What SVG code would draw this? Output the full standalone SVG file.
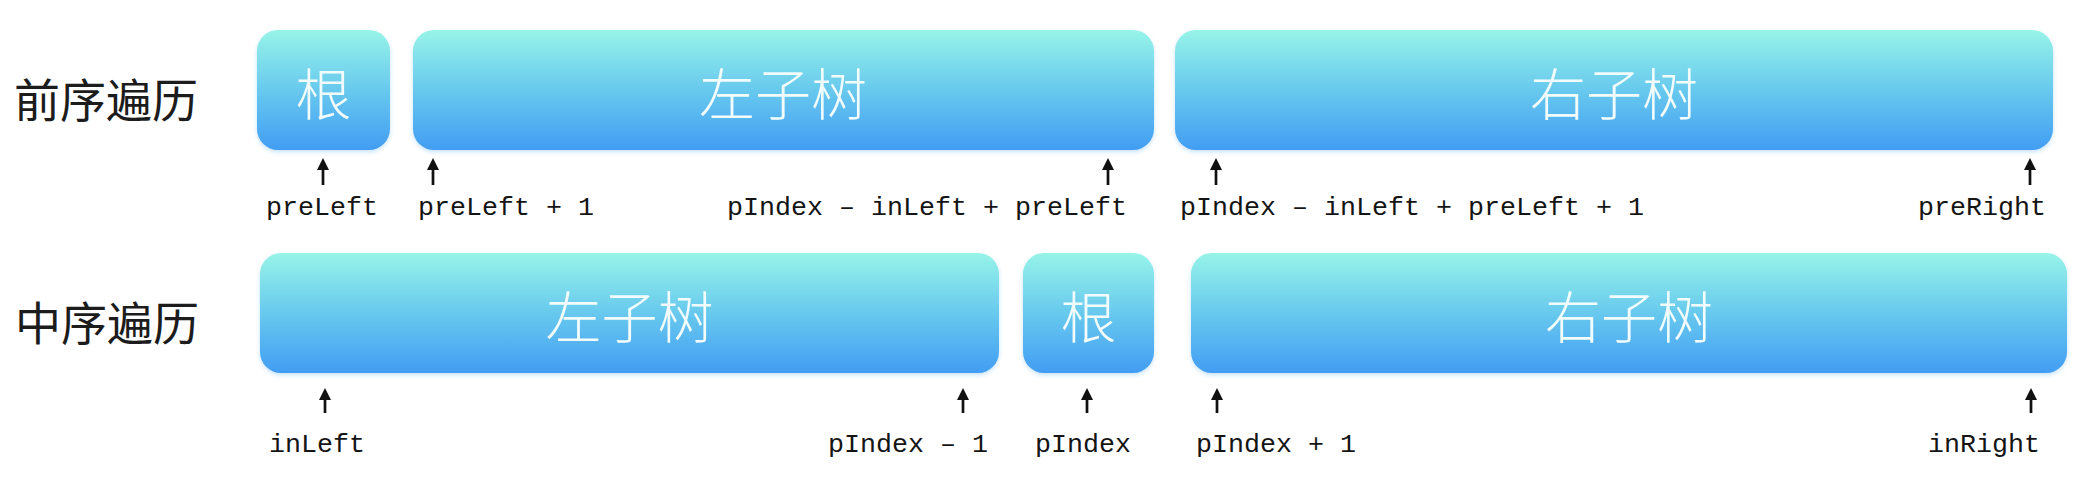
<svg xmlns="http://www.w3.org/2000/svg" width="2094" height="480" viewBox="0 0 2094 480">
<style>
.box{fill:url(#g);filter:url(#sh)}
.bt{font-family:"Noto Sans CJK SC","Noto Sans",sans-serif;font-size:56px;font-weight:300;fill:#f2fcfc;text-anchor:middle;dominant-baseline:central}
.rl{font-family:"Noto Sans CJK SC","Noto Sans",sans-serif;font-size:46px;fill:#1c1c1c;dominant-baseline:central}
.lb{font-family:"Liberation Mono","DejaVu Sans Mono",monospace;font-size:26.67px;fill:#141414}
.ar{stroke:#111;stroke-width:2.7;fill:none;marker-end:url(#ah)}
</style>
<defs>
<linearGradient id="g" x1="0" y1="0" x2="0" y2="1">
<stop offset="0" stop-color="#97f4e8"/>
<stop offset="0.5" stop-color="#68c9ee"/>
<stop offset="1" stop-color="#429df3"/>
</linearGradient>
<filter id="sh" x="-5%" y="-10%" width="110%" height="125%">
<feDropShadow dx="0" dy="2" stdDeviation="2" flood-color="#5aaef0" flood-opacity="0.35"/>
</filter>
<marker id="ah" markerUnits="userSpaceOnUse" markerWidth="12" markerHeight="12" refX="4" refY="6" orient="auto" viewBox="0 0 12 12">
<path d="M0,0 L12,6 L0,12 z" fill="#111"/>
</marker>
</defs>
<rect width="2094" height="480" fill="#ffffff"/>
<g id="row-labels">
<text class="rl" x="14" y="97">前序遍历</text>
<text class="rl" x="15" y="320">中序遍历</text>
</g>
<g id="pre-root"><rect class="box" x="257" y="30" width="133" height="120" rx="21"/><text class="bt" x="323.5" y="90">根</text></g>
<g id="pre-left"><rect class="box" x="413" y="30" width="741" height="120" rx="21"/><text class="bt" x="783" y="90">左子树</text></g>
<g id="pre-right"><rect class="box" x="1175" y="30" width="878" height="120" rx="21"/><text class="bt" x="1614" y="90">右子树</text></g>
<g id="in-left"><rect class="box" x="260" y="253" width="739" height="120" rx="21"/><text class="bt" x="629.5" y="313">左子树</text></g>
<g id="in-root"><rect class="box" x="1023" y="253" width="131" height="120" rx="21"/><text class="bt" x="1088.5" y="313">根</text></g>
<g id="in-right"><rect class="box" x="1191" y="253" width="876" height="120" rx="21"/><text class="bt" x="1629" y="313">右子树</text></g>
<g id="connectors">
<line class="ar" x1="323" y1="185" x2="323" y2="166"/>
<line class="ar" x1="433" y1="185" x2="433" y2="166"/>
<line class="ar" x1="1108" y1="185" x2="1108" y2="166"/>
<line class="ar" x1="1216" y1="185" x2="1216" y2="166"/>
<line class="ar" x1="2030" y1="185" x2="2030" y2="166"/>
<line class="ar" x1="325" y1="413" x2="325" y2="396"/>
<line class="ar" x1="963" y1="413" x2="963" y2="396"/>
<line class="ar" x1="1087" y1="413" x2="1087" y2="396"/>
<line class="ar" x1="1217" y1="413" x2="1217" y2="396"/>
<line class="ar" x1="2031" y1="413" x2="2031" y2="396"/>
</g>
<g id="index-labels">
<text class="lb" x="266" y="215">preLeft</text>
<text class="lb" x="418" y="215">preLeft + 1</text>
<text class="lb" x="727" y="215">pIndex – inLeft + preLeft</text>
<text class="lb" x="1180" y="215">pIndex – inLeft + preLeft + 1</text>
<text class="lb" x="1918" y="215">preRight</text>
<text class="lb" x="269" y="452">inLeft</text>
<text class="lb" x="828" y="452">pIndex – 1</text>
<text class="lb" x="1035" y="452">pIndex</text>
<text class="lb" x="1196" y="452">pIndex + 1</text>
<text class="lb" x="1928" y="452">inRight</text>
</g>
</svg>
